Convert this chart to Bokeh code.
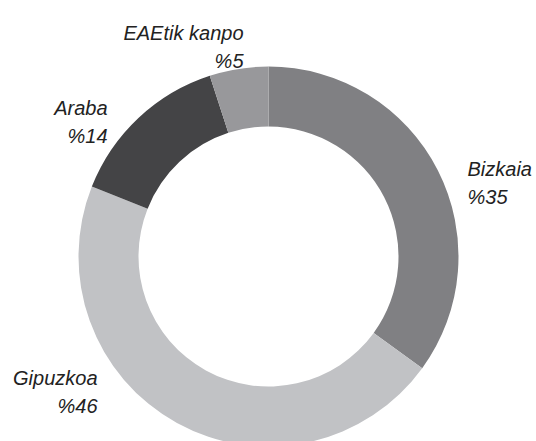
import math
from bokeh.plotting import figure
from bokeh.models import ColumnDataSource, Range1d
from bokeh.core.properties import value
from bokeh.embed import file_html
from bokeh.resources import INLINE

# --- data ---
regions = ["Bizkaia", "Gipuzkoa", "Araba", "EAEtik kanpo"]
shares = [35, 46, 14, 5]
pct_labels = ["%35", "%46", "%14", "%5"]

# --- style / layout ---
colors = ["#808083", "#c1c2c5", "#444446", "#98989b"]
W, H = 536, 441
cx, cy = 268, 185          # centre in pixel-like data units
r_out, r_in = 190, 130
# label anchors (x, baseline of name, align)
label_pos = {
    "Bizkaia": (467, 273, "left"),
    "Gipuzkoa": (97, 64, "right"),
    "Araba": (107, 334, "right"),
    "EAEtik kanpo": (243, 409, "right"),
}
line_gap = 28

total = sum(shares)
starts, ends = [], []
acc = 0.0
for s in shares:
    starts.append(math.pi / 2 - 2 * math.pi * acc / total)
    acc += s
    ends.append(math.pi / 2 - 2 * math.pi * acc / total)

src = ColumnDataSource(dict(start=starts, end=ends, color=colors, region=regions))

p = figure(width=W, height=H, output_backend="svg", toolbar_location=None,
           x_range=Range1d(0, W), y_range=Range1d(0, H), min_border=0)
p.axis.visible = False
p.grid.visible = False
p.outline_line_color = None
p.background_fill_color = "white"

p.annular_wedge(x=cx, y=cy, inner_radius=r_in, outer_radius=r_out,
                start_angle="start", end_angle="end", direction="clock",
                fill_color="color", line_color=None, source=src)

for name, pct in zip(regions, pct_labels):
    x, y, al = label_pos[name]
    p.text(x=[x, x], y=[y, y - line_gap], text=[name, pct],
           text_align=al, text_baseline="alphabetic",
           text_font=value("Liberation Sans"), text_font_style="italic",
           text_font_size="20px", text_color="#222222")

open("out.html", "w").write(file_html(p, INLINE))
